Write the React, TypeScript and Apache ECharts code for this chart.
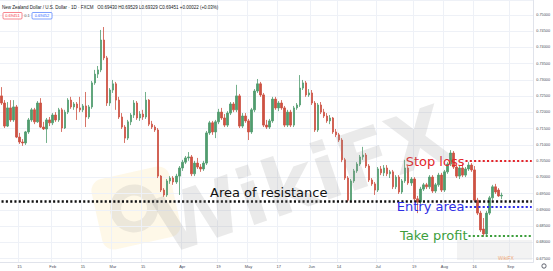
import React, { useEffect, useRef } from "react";
import * as echarts from "echarts";

// ---- data (NZD/USD daily) ----
const START_DATE = "2021-01-07";
const SESSION_COUNT = 177; // weekdays on the time axis (candles + empty right margin)

const opens = [
  0.7251, 0.7229, 0.7158, 0.7214, 0.7177, 0.7217, 0.7124, 0.7109, 0.7106, 0.7140,
  0.7177, 0.7208, 0.7171, 0.7229, 0.7155, 0.7149, 0.7177, 0.7168, 0.7192, 0.7177,
  0.7208, 0.7152, 0.7201, 0.7238, 0.7217, 0.7226, 0.7214, 0.7208, 0.7220, 0.7186,
  0.7217, 0.7291, 0.7318, 0.7331, 0.7423, 0.7368, 0.7229, 0.7269, 0.7288, 0.7238,
  0.7186, 0.7155, 0.7121, 0.7171, 0.7192, 0.7229, 0.7183, 0.7195, 0.7186, 0.7238,
  0.7164, 0.7155, 0.7146, 0.7004, 0.6961, 0.6946, 0.6989, 0.6998, 0.6986, 0.7004,
  0.7029, 0.7047, 0.7060, 0.7063, 0.7011, 0.7044, 0.7032, 0.7026, 0.7044, 0.7137,
  0.7168, 0.7140, 0.7171, 0.7201, 0.7183, 0.7161, 0.7198, 0.7226, 0.7208, 0.7251,
  0.7158, 0.7189, 0.7174, 0.7140, 0.7208, 0.7266, 0.7288, 0.7254, 0.7161, 0.7155,
  0.7174, 0.7241, 0.7214, 0.7229, 0.7214, 0.7161, 0.7201, 0.7161, 0.7214, 0.7223,
  0.7275, 0.7291, 0.7254, 0.7260, 0.7229, 0.7146, 0.7223, 0.7201, 0.7189, 0.7174,
  0.7183, 0.7140, 0.7131, 0.7115, 0.7054, 0.6998, 0.6930, 0.6989, 0.7020, 0.7041,
  0.7063, 0.7069, 0.7035, 0.6992, 0.6980, 0.6961, 0.7026, 0.7014, 0.7029, 0.7011,
  0.7017, 0.6971, 0.7001, 0.6955, 0.6989, 0.7029, 0.6983, 0.6995, 0.6934, 0.6924,
  0.6964, 0.6977, 0.6971, 0.7001, 0.6958, 0.6977, 0.7007, 0.6961, 0.7017, 0.7041,
  0.7075, 0.7032, 0.7004, 0.7029, 0.7007, 0.7026, 0.7038, 0.7023, 0.6930, 0.6890,
  0.6841, 0.6826, 0.6890, 0.6937, 0.6971, 0.6961, 0.6943,
];

const closes = [
  0.7229, 0.7158, 0.7214, 0.7177, 0.7217, 0.7124, 0.7109, 0.7106, 0.7140, 0.7177,
  0.7208, 0.7171, 0.7229, 0.7155, 0.7149, 0.7177, 0.7168, 0.7192, 0.7177, 0.7208,
  0.7152, 0.7201, 0.7238, 0.7217, 0.7226, 0.7214, 0.7208, 0.7220, 0.7186, 0.7217,
  0.7291, 0.7318, 0.7331, 0.7423, 0.7368, 0.7229, 0.7269, 0.7288, 0.7238, 0.7186,
  0.7155, 0.7121, 0.7171, 0.7192, 0.7229, 0.7183, 0.7195, 0.7186, 0.7238, 0.7164,
  0.7155, 0.7146, 0.7004, 0.6961, 0.6946, 0.6989, 0.6998, 0.6986, 0.7004, 0.7029,
  0.7047, 0.7060, 0.7063, 0.7011, 0.7044, 0.7032, 0.7026, 0.7044, 0.7137, 0.7168,
  0.7140, 0.7171, 0.7201, 0.7183, 0.7161, 0.7198, 0.7226, 0.7208, 0.7251, 0.7158,
  0.7189, 0.7174, 0.7140, 0.7208, 0.7266, 0.7288, 0.7254, 0.7161, 0.7155, 0.7174,
  0.7241, 0.7214, 0.7229, 0.7214, 0.7161, 0.7201, 0.7161, 0.7214, 0.7223, 0.7275,
  0.7291, 0.7254, 0.7260, 0.7229, 0.7146, 0.7223, 0.7201, 0.7189, 0.7174, 0.7183,
  0.7140, 0.7131, 0.7115, 0.7054, 0.6998, 0.6930, 0.6989, 0.7020, 0.7041, 0.7063,
  0.7069, 0.7035, 0.6992, 0.6980, 0.6961, 0.7026, 0.7014, 0.7029, 0.7011, 0.7017,
  0.6971, 0.7001, 0.6955, 0.6989, 0.7029, 0.6983, 0.6995, 0.6934, 0.6924, 0.6964,
  0.6977, 0.6971, 0.7001, 0.6958, 0.6977, 0.7007, 0.6961, 0.7017, 0.7041, 0.7075,
  0.7032, 0.7004, 0.7029, 0.7007, 0.7026, 0.7038, 0.7023, 0.6930, 0.6890, 0.6838,
  0.6826, 0.6890, 0.6937, 0.6971, 0.6955, 0.6943, 0.6945,
];

const lows = [
  0.7223, 0.7152, 0.7155, 0.7171, 0.7171, 0.7121, 0.7103, 0.7097, 0.7100, 0.7134,
  0.7171, 0.7164, 0.7168, 0.7152, 0.7146, 0.7106, 0.7158, 0.7161, 0.7171, 0.7171,
  0.7140, 0.7149, 0.7195, 0.7211, 0.7208, 0.7177, 0.7201, 0.7201, 0.7155, 0.7180,
  0.7211, 0.7285, 0.7306, 0.7324, 0.7361, 0.7220, 0.7220, 0.7260, 0.7208, 0.7180,
  0.7149, 0.7106, 0.7115, 0.7161, 0.7183, 0.7177, 0.7174, 0.7177, 0.7180, 0.7158,
  0.7149, 0.7140, 0.6998, 0.6955, 0.6940, 0.6940, 0.6980, 0.6977, 0.6980, 0.6946,
  0.7020, 0.7041, 0.7051, 0.7004, 0.7004, 0.7026, 0.7017, 0.7020, 0.7038, 0.7131,
  0.7131, 0.7121, 0.7164, 0.7177, 0.7155, 0.7155, 0.7192, 0.7201, 0.7201, 0.7152,
  0.7152, 0.7168, 0.7115, 0.7134, 0.7201, 0.7260, 0.7248, 0.7155, 0.7149, 0.7149,
  0.7168, 0.7208, 0.7204, 0.7208, 0.7155, 0.7155, 0.7155, 0.7155, 0.7208, 0.7217,
  0.7269, 0.7248, 0.7248, 0.7223, 0.7140, 0.7140, 0.7195, 0.7183, 0.7168, 0.7164,
  0.7134, 0.7124, 0.7109, 0.7047, 0.6992, 0.6924, 0.6924, 0.6983, 0.7014, 0.7035,
  0.7054, 0.7029, 0.6986, 0.6974, 0.6946, 0.6955, 0.7007, 0.7004, 0.7004, 0.6998,
  0.6964, 0.6964, 0.6949, 0.6949, 0.6983, 0.6977, 0.6974, 0.6924, 0.6890, 0.6918,
  0.6958, 0.6964, 0.6964, 0.6952, 0.6952, 0.6971, 0.6955, 0.6955, 0.7011, 0.7035,
  0.7026, 0.6998, 0.6995, 0.7001, 0.7001, 0.7020, 0.7017, 0.6924, 0.6884, 0.6832,
  0.6817, 0.6817, 0.6884, 0.6930, 0.6949, 0.6940, 0.6933,
];

const highs = [
  0.7278, 0.7238, 0.7232, 0.7238, 0.7238, 0.7223, 0.7137, 0.7118, 0.7143, 0.7183,
  0.7214, 0.7214, 0.7235, 0.7244, 0.7171, 0.7183, 0.7186, 0.7198, 0.7201, 0.7214,
  0.7214, 0.7208, 0.7244, 0.7248, 0.7232, 0.7232, 0.7248, 0.7226, 0.7263, 0.7223,
  0.7297, 0.7331, 0.7343, 0.7454, 0.7463, 0.7374, 0.7275, 0.7300, 0.7294, 0.7248,
  0.7198, 0.7161, 0.7177, 0.7198, 0.7238, 0.7235, 0.7204, 0.7208, 0.7263, 0.7241,
  0.7174, 0.7161, 0.7152, 0.7007, 0.6967, 0.6995, 0.7004, 0.7004, 0.7011, 0.7035,
  0.7054, 0.7066, 0.7078, 0.7069, 0.7051, 0.7060, 0.7041, 0.7051, 0.7143, 0.7174,
  0.7174, 0.7177, 0.7211, 0.7214, 0.7195, 0.7204, 0.7232, 0.7232, 0.7285, 0.7257,
  0.7198, 0.7198, 0.7180, 0.7214, 0.7272, 0.7303, 0.7294, 0.7260, 0.7177, 0.7180,
  0.7248, 0.7248, 0.7235, 0.7238, 0.7220, 0.7208, 0.7208, 0.7220, 0.7229, 0.7315,
  0.7300, 0.7297, 0.7272, 0.7269, 0.7235, 0.7229, 0.7232, 0.7211, 0.7198, 0.7192,
  0.7186, 0.7149, 0.7137, 0.7121, 0.7060, 0.7004, 0.6995, 0.7026, 0.7047, 0.7069,
  0.7094, 0.7075, 0.7041, 0.6998, 0.6986, 0.7032, 0.7035, 0.7038, 0.7038, 0.7023,
  0.7023, 0.7007, 0.7007, 0.6995, 0.7054, 0.7035, 0.7001, 0.7001, 0.6943, 0.6971,
  0.6983, 0.6983, 0.7007, 0.7007, 0.6983, 0.7014, 0.7014, 0.7023, 0.7047, 0.7084,
  0.7081, 0.7038, 0.7035, 0.7041, 0.7032, 0.7047, 0.7044, 0.7035, 0.6937, 0.6897,
  0.6875, 0.6897, 0.6943, 0.6977, 0.6980, 0.6967, 0.6953,
];

const timeLabels: [string, string][] = [
  ["2021-01-15", "15"], ["2021-02-01", "Feb"], ["2021-02-15", "15"], ["2021-03-01", "Mar"],
  ["2021-03-15", "15"], ["2021-04-01", "Apr"], ["2021-04-19", "19"], ["2021-05-03", "May"],
  ["2021-05-17", "17"], ["2021-06-01", "Jun"], ["2021-06-14", "14"], ["2021-07-01", "Jul"],
  ["2021-07-19", "19"], ["2021-08-02", "Aug"], ["2021-08-16", "16"], ["2021-09-01", "Sep"],
];

const levels = [
  { name: "Area of resistance", value: 0.6927, from: "2021-01-07", to: "2021-09-10", color: "#111111", width: 2.5, showLabel: false },
  { name: "Stop loss", value: 0.7050, from: "2021-08-11", to: "2021-09-10", color: "#e3262b", width: 2, showLabel: true },
  { name: "Entry area", value: 0.6909, from: "2021-08-11", to: "2021-09-10", color: "#2f2fe6", width: 2, showLabel: true },
  { name: "Take profit", value: 0.6820, from: "2021-08-12", to: "2021-09-10", color: "#3c9e3c", width: 2, showLabel: true },
];

const HEADER = "New Zealand Dollar / U.S. Dollar · 1D · FXCM   O0.69430 H0.69529 L0.69329 C0.69451 +0.00022 (+0.03%)";
const BID = "0.69451";
const SPREAD = "0.1";
const ASK = "0.69452";

function weekdays(start: string, count: number): string[] {
  const out: string[] = [];
  const d = new Date(start + "T00:00:00Z");
  while (out.length < count) {
    const wd = d.getUTCDay();
    if (wd !== 0 && wd !== 6) out.push(d.toISOString().slice(0, 10));
    d.setUTCDate(d.getUTCDate() + 1);
  }
  return out;
}

export default function App() {
  const ref = useRef<HTMLDivElement>(null);

  useEffect(() => {
    document.body.style.margin = "0";
    if (!ref.current) return;
    const chart = echarts.init(ref.current, undefined, { renderer: "svg" });
    const dates = weekdays(START_DATE, SESSION_COUNT);
    const labelMap = new Map(timeLabels);
    const candles = opens.map((o, i) => [o, closes[i], lows[i], highs[i]]);
    const font = "Liberation Sans, Arial, sans-serif";
    const annFont = "DejaVu Sans, Verdana, sans-serif";

    const option: any = {
      animation: false,
      backgroundColor: "#ffffff",
      grid: { left: 0, right: 19, top: 0, bottom: 9, containLabel: false },
      xAxis: {
        type: "category",
        data: dates,
        boundaryGap: true,
        axisLine: { show: true, lineStyle: { color: "#e0e3eb", width: 1 } },
        axisTick: { show: false },
        axisLabel: {
          interval: (_i: number, v: string) => labelMap.has(v),
          formatter: (v: string) => labelMap.get(v) ?? "",
          fontSize: 4,
          color: "#4a4d57",
          margin: 2.5,
          fontFamily: font,
        },
        splitLine: {
          show: true,
          interval: (_i: number, v: string) => labelMap.has(v),
          lineStyle: { color: "#eef1f7", width: 1 },
        },
      },
      yAxis: {
        type: "value",
        position: "right",
        min: 0.67395,
        max: 0.75462,
        splitNumber: 16,
        minInterval: 0.005,
        maxInterval: 0.005,
        axisLine: { show: true, lineStyle: { color: "#e0e3eb", width: 1 } },
        axisTick: { show: false },
        axisLabel: {
          showMinLabel: false,
          showMaxLabel: false,
          formatter: (v: number) => v.toFixed(5),
          fontSize: 3.8,
          color: "#4a4d57",
          margin: 3,
          fontFamily: font,
        },
        splitLine: { show: true, lineStyle: { color: "#eef1f7", width: 1 } },
      },
      series: [
        {
          type: "candlestick",
          data: candles,
          barWidth: 2,
          itemStyle: {
            color: "#519c6e",
            color0: "#cd5242",
            borderColor: "#519c6e",
            borderColor0: "#cd5242",
            borderWidth: 0.8,
          },
          markLine: {
            silent: true,
            symbol: ["none", "none"],
            animation: false,
            data: levels.map((l) => [
              {
                coord: [dates.indexOf(l.from), l.value],
                lineStyle: { color: l.color, width: l.width, type: [2.1, 2.2] },
                label: {
                  show: l.showLabel,
                  position: "start",
                  formatter: l.name,
                  color: l.color,
                  fontSize: 13,
                  fontFamily: annFont,
                  distance: 1,
                },
              },
              { coord: [dates.indexOf(l.to), l.value] },
            ]),
          },
        },
      ],
      graphic: [
        // watermark logo
        {
          type: "group",
          x: 136,
          y: 208,
          rotation: 0.22,
          z: 50,
          silent: true,
          children: [
            { type: "rect", shape: { x: -40, y: -36, width: 80, height: 72, r: 12 }, style: { fill: "rgba(250,225,160,0.24)" } },
            { type: "ring", shape: { cx: -2, cy: 0, r: 24, r0: 13 }, style: { fill: "rgba(150,150,150,0.17)" } },
          ],
        },
        // watermark text
        {
          type: "text",
          x: 302,
          y: 180,
          rotation: 0.33,
          z: 50,
          silent: true,
          style: {
            text: "WikiFX",
            fontSize: 78,
            fontWeight: "bold",
            fontFamily: annFont,
            fill: "rgba(150,150,150,0.2)",
            align: "center",
            verticalAlign: "middle",
          },
        },
        // blurred patch bottom right
        { type: "rect", z: 50, silent: true, shape: { x: 457, y: 240, width: 75, height: 20 }, style: { fill: "rgba(215,215,215,0.3)" } },
        { type: "text", z: 51, silent: true, x: 506, y: 258, style: { text: "WikiFX", fontSize: 5, fill: "rgba(240,140,70,0.75)", align: "center", verticalAlign: "middle", fontFamily: font } },
        // annotation
        {
          type: "text",
          x: 210,
          y: 192,
          z: 60,
          style: { text: "Area of resistance", fontSize: 13, fontFamily: annFont, fill: "#111111", verticalAlign: "middle" },
        },
        // header
        {
          type: "text",
          x: 2,
          y: 7,
          z: 60,
          style: { text: HEADER, fontSize: 4.5, fontFamily: font, fill: "#131722", verticalAlign: "middle" },
        },
        { type: "rect", z: 60, shape: { x: 3, y: 12.5, width: 19, height: 6.5, r: 1 }, style: { fill: "#ffffff", stroke: "#f23645", lineWidth: 0.6 } },
        { type: "text", z: 61, x: 12.5, y: 15.8, style: { text: BID, fontSize: 4, fontFamily: font, fill: "#f23645", align: "center", verticalAlign: "middle" } },
        { type: "text", z: 61, x: 27, y: 15.8, style: { text: SPREAD, fontSize: 4, fontFamily: font, fill: "#555", align: "center", verticalAlign: "middle" } },
        { type: "rect", z: 60, shape: { x: 32, y: 12.5, width: 20, height: 6.5, r: 1 }, style: { fill: "#ffffff", stroke: "#2962ff", lineWidth: 0.6 } },
        { type: "text", z: 61, x: 42, y: 15.8, style: { text: ASK, fontSize: 4, fontFamily: font, fill: "#2962ff", align: "center", verticalAlign: "middle" } },
        // settings icon
        { type: "ring", z: 60, shape: { cx: 544, cy: 266, r: 2.6, r0: 1.6 }, style: { fill: "#6a6d78" } },
      ],
    };

    chart.setOption(option);
    return () => chart.dispose();
  }, []);

  return <div ref={ref} style={{ width: 553, height: 271 }} />;
}
